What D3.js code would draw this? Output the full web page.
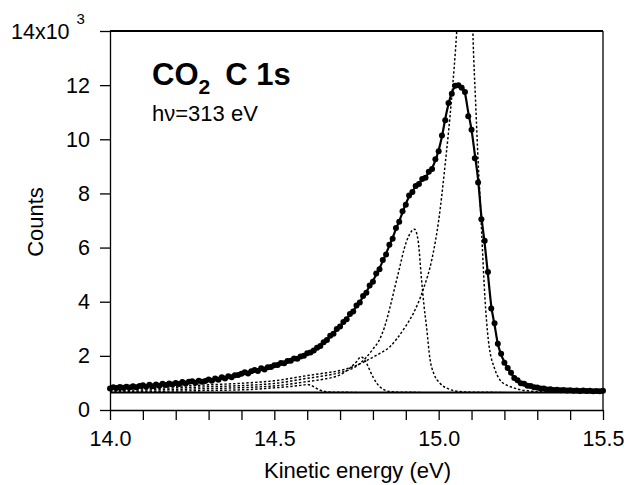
<!DOCTYPE html>
<html><head><meta charset="utf-8">
<script src="https://cdn.jsdelivr.net/npm/d3@7/dist/d3.min.js"></script>
<style>
body{margin:0;background:#fff}
svg{display:block}
text{font-family:"Liberation Sans",Arial,Helvetica,sans-serif;fill:#000}
</style>
</head><body>
<svg id="chart" width="624" height="485"></svg>
<script>
// ---- data (counts in units of 10^3) ----
const xTickValues = [14.0,14.1,14.2,14.3,14.4,14.5,14.6,14.7,14.8,14.9,15.0,15.1,15.2,15.3,15.4,15.5];
const xTickLabels = ["14.0","14.5","15.0","15.5"];
const yTickValues = [0,2,4,6,8,10,12,14];
const yTickLabels = ["0","2","4","6","8","10","12","14x10"];
const yExponent = "3";

// data points, 14.00 eV .. 15.50 eV every 0.01 eV
const dotStartEnergy = 14.0, dotStep = 0.01;
const dotCounts = [
0.79,0.84,0.81,0.85,0.82,0.86,0.83,0.88,0.84,0.89,
0.91,0.86,0.93,0.88,0.94,0.90,0.97,0.92,0.98,0.94,
1.00,0.96,1.03,0.98,1.04,1.06,1.01,1.08,1.04,1.07,
1.13,1.08,1.16,1.12,1.21,1.16,1.25,1.21,1.28,1.29,
1.34,1.39,1.35,1.43,1.48,1.44,1.54,1.50,1.58,1.59,
1.65,1.66,1.74,1.73,1.81,1.82,1.90,1.89,1.98,2.00,
2.10,2.12,2.20,2.30,2.36,2.50,2.59,2.74,2.82,2.99,
3.08,3.25,3.35,3.55,3.64,3.86,3.97,4.21,4.33,4.60,
4.74,5.04,5.20,5.54,5.74,6.10,6.33,6.72,6.95,7.34,
7.58,7.92,8.05,8.27,8.35,8.53,8.58,8.80,8.90,9.26,
9.56,10.14,10.70,11.34,11.68,11.98,12.00,11.90,11.75,10.85,
10.35,9.30,8.40,7.05,6.25,5.10,3.75,3.20,2.45,2.08,
1.75,1.55,1.38,1.18,1.10,0.99,0.97,0.90,0.89,0.84,
0.83,0.79,0.79,0.76,0.77,0.74,0.75,0.73,0.74,0.72,
0.73,0.71,0.72,0.70,0.72,0.70,0.71,0.69,0.70,0.69,0.71];

// fitted curve on the same energy grid
const fitCounts = [
0.80,0.81,0.82,0.82,0.83,0.84,0.85,0.85,0.86,0.87,
0.88,0.89,0.90,0.91,0.92,0.93,0.94,0.95,0.96,0.97,
0.98,0.99,1.00,1.01,1.02,1.03,1.04,1.05,1.06,1.08,
1.10,1.12,1.14,1.16,1.18,1.20,1.22,1.25,1.28,1.31,
1.34,1.37,1.40,1.43,1.46,1.49,1.52,1.55,1.58,1.60,
1.63,1.67,1.71,1.75,1.79,1.83,1.87,1.91,1.96,2.01,
2.07,2.13,2.20,2.28,2.37,2.48,2.60,2.72,2.84,2.97,
3.10,3.23,3.37,3.52,3.67,3.83,4.00,4.18,4.37,4.57,
4.78,5.00,5.24,5.50,5.78,6.07,6.37,6.68,6.98,7.30,
7.62,7.88,8.08,8.24,8.38,8.50,8.62,8.76,8.94,9.22,
9.60,10.10,10.75,11.30,11.72,11.95,12.02,11.95,11.70,11.00,
10.35,9.45,8.50,7.15,6.15,5.00,3.85,3.15,2.45,2.05,
1.78,1.55,1.36,1.20,1.08,1.01,0.96,0.92,0.88,0.85,
0.82,0.80,0.78,0.77,0.76,0.75,0.74,0.74,0.73,0.73,
0.72,0.72,0.72,0.71,0.71,0.71,0.70,0.70,0.70,0.70,0.70];

// constant background
const backgroundLevel = 0.65;
const backgroundRange = [14.0, 15.5];

// fitted components (energy, counts) including background
const compV0 = [[14.00,0.80],[14.10,0.84],[14.20,0.88],[14.30,0.93],[14.43,1.01],[14.50,1.08],
 [14.60,1.27],[14.65,1.36],[14.70,1.46],[14.75,1.65],[14.78,1.82],[14.80,1.95],[14.821,2.09],
 [14.852,2.34],[14.872,2.62],[14.90,3.10],[14.923,3.57],[14.953,4.45],[14.98,5.60],[15.00,7.00],
 [15.02,9.10],[15.04,11.60],[15.055,14.0],[15.07,17.5],[15.08,19.0],[15.09,18.5],[15.10,16.0],
 [15.105,13.6],[15.112,11.5],[15.12,9.20],[15.126,7.80],[15.131,6.50],[15.141,4.10],[15.151,2.60],
 [15.171,1.50],[15.187,1.10],[15.207,0.92],[15.226,0.83],[15.25,0.74],[15.27,0.71],[15.30,0.68],
 [15.40,0.66],[15.50,0.65]];
const compV1 = [[14.00,0.76],[14.10,0.79],[14.20,0.82],[14.30,0.86],[14.43,0.92],[14.50,0.98],
 [14.60,1.17],[14.65,1.26],[14.70,1.38],[14.72,1.45],[14.75,1.62],[14.78,1.95],[14.80,2.25],
 [14.821,2.62],[14.835,3.05],[14.852,3.80],[14.868,4.60],[14.882,5.30],[14.895,5.95],[14.91,6.45],
 [14.926,6.68],[14.937,6.30],[14.948,4.80],[14.955,3.90],[14.963,3.08],[14.974,1.85],[14.985,1.35],
 [15.004,0.99],[15.03,0.78],[15.065,0.68],[15.10,0.66],[15.20,0.65]];
const compV2 = [[14.00,0.72],[14.10,0.74],[14.20,0.76],[14.30,0.79],[14.43,0.84],[14.50,0.89],
 [14.60,1.05],[14.65,1.14],[14.70,1.30],[14.73,1.55],[14.75,1.78],[14.763,1.96],[14.772,1.90],
 [14.781,1.72],[14.791,1.45],[14.801,1.20],[14.811,1.00],[14.821,0.86],[14.835,0.74],[14.852,0.68],
 [14.88,0.66],[14.95,0.65]];
const compV3 = [[14.00,0.68],[14.10,0.69],[14.20,0.70],[14.30,0.72],[14.43,0.76],[14.50,0.82],
 [14.55,0.87],[14.58,0.91],[14.60,0.94],[14.61,0.92],[14.625,0.82],[14.64,0.73],[14.655,0.68],
 [14.68,0.66],[14.75,0.65]];
const components = [compV0, compV1, compV2, compV3];

// ---- drawing ----
const W = 624, H = 485;
const margin = {left:110, right:21, top:31, bottom:75};
const svg = d3.select("#chart");
const x = d3.scaleLinear().domain([14.0, 15.5]).range([margin.left, W - margin.right]);
const y = d3.scaleLinear().domain([0, 14]).range([H - margin.bottom, margin.top]);

svg.append("defs").append("clipPath").attr("id","plotclip")
  .append("rect").attr("x", x(14.0)).attr("y", y(14)).attr("width", x(15.5)-x(14.0)).attr("height", y(0)-y(14));

const plot = svg.append("g").attr("clip-path","url(#plotclip)");

// background line
plot.append("line")
  .attr("x1", x(backgroundRange[0])).attr("x2", x(backgroundRange[1]))
  .attr("y1", y(backgroundLevel)).attr("y2", y(backgroundLevel))
  .attr("stroke","#000").attr("stroke-width",2);

const compLine = d3.line().x(d => x(d[0])).y(d => y(d[1])).curve(d3.curveMonotoneX);
components.forEach(c => {
  plot.append("path").attr("d", compLine(c))
    .attr("fill","none").attr("stroke","#000").attr("stroke-width",1.45)
    .attr("stroke-dasharray","2.4,2");
});

const fitData = fitCounts.map((v,i) => [dotStartEnergy + i*dotStep, v]);
plot.append("path").attr("d", compLine(fitData))
  .attr("fill","none").attr("stroke","#000").attr("stroke-width",2.2);

const dotData = dotCounts.map((v,i) => [dotStartEnergy + i*dotStep, v]);
svg.append("g").selectAll("circle").data(dotData).join("circle")
  .attr("cx", d => x(d[0])).attr("cy", d => y(d[1])).attr("r", 3).attr("fill","#000");

// axes
const xAxis = d3.axisBottom(x).tickValues(xTickValues).tickSize(10).tickSizeOuter(0)
  .tickFormat(d => { const s = d.toFixed(1); return xTickLabels.includes(s) ? s : ""; });
const gx = svg.append("g").attr("transform", `translate(0,${y(0)})`).call(xAxis);
gx.select(".domain").attr("stroke-width",1.5);
gx.selectAll(".tick line").attr("stroke-width",1.3);
gx.selectAll(".tick text").attr("font-size",21.5).attr("dy","1.05em")
  .attr("font-family",'"Liberation Sans",Arial,sans-serif');

const yAxis = d3.axisLeft(y).tickValues(yTickValues).tickSize(10).tickSizeOuter(0)
  .tickFormat((d,i) => i === yTickValues.length-1 ? "" : yTickLabels[i]);
const gy = svg.append("g").attr("transform", `translate(${x(14.0)},0)`).call(yAxis);
gy.select(".domain").attr("stroke-width",1.3);
gy.selectAll(".tick line").attr("stroke-width",1.3);
gy.selectAll(".tick text").attr("font-size",21.5).attr("x",-20)
  .attr("font-family",'"Liberation Sans",Arial,sans-serif');

// top exponent label
const expLabel = svg.append("text").attr("x", 11).attr("y", y(14) + 7.5).attr("font-size",21.5);
expLabel.append("tspan").text(yTickLabels[yTickLabels.length-1]);
expLabel.append("tspan").attr("dx",7).attr("dy",-15).attr("font-size",15).text(yExponent);

// frame top and right
svg.append("line").attr("x1", x(14.0)).attr("x2", x(15.5)).attr("y1", y(14)).attr("y2", y(14))
  .attr("stroke","#000").attr("stroke-width",2);
svg.append("line").attr("x1", x(15.5)).attr("x2", x(15.5)).attr("y1", y(14)).attr("y2", y(0))
  .attr("stroke","#000").attr("stroke-width",1.3);

// axis titles
svg.append("text").attr("x", (x(14.0)+x(15.5))/2 + 1).attr("y", 478)
  .attr("text-anchor","middle").attr("font-size",22).text("Kinetic energy (eV)");
svg.append("text").attr("transform","translate(43,222) rotate(-90)")
  .attr("text-anchor","middle").attr("font-size",22).text("Counts");

// annotation
const title = svg.append("text").attr("x",152).attr("y",85).attr("font-size",31).attr("font-weight","bold");
title.append("tspan").text("CO");
title.append("tspan").attr("dy",9).attr("font-size",21).text("2");
title.append("tspan").attr("dx",15).attr("dy",-9).text("C 1s");
svg.append("text").attr("x",152).attr("y",121).attr("font-size",22).text("hν=313 eV");
</script>
</body></html>
